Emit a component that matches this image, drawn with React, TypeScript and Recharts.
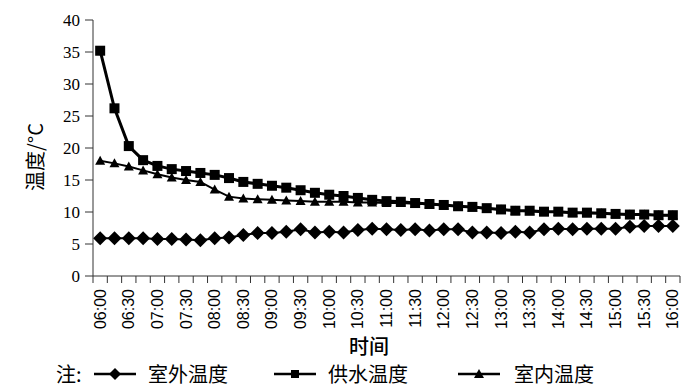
import { LineChart, Line, XAxis, YAxis, Label } from 'recharts'

const TIMES = [
  '06:00', '06:15', '06:30', '06:45', '07:00', '07:15', '07:30', '07:45',
  '08:00', '08:15', '08:30', '08:45', '09:00', '09:15', '09:30', '09:45',
  '10:00', '10:15', '10:30', '10:45', '11:00', '11:15', '11:30', '11:45',
  '12:00', '12:15', '12:30', '12:45', '13:00', '13:15', '13:30', '13:45',
  '14:00', '14:15', '14:30', '14:45', '15:00', '15:15', '15:30', '15:45',
  '16:00',
]

// 室外温度
const OUTDOOR = [
  5.9, 5.9, 5.9, 5.9, 5.8, 5.8, 5.7, 5.6, 5.9, 6.0, 6.4, 6.7, 6.7, 6.9, 7.3, 6.8,
  6.9, 6.8, 7.2, 7.4, 7.3, 7.2, 7.3, 7.1, 7.3, 7.3, 6.8, 6.8, 6.7, 6.9, 6.8, 7.3,
  7.4, 7.3, 7.4, 7.4, 7.4, 7.7, 7.8, 7.8, 7.8,
]

// 供水温度
const SUPPLY = [
  35.2, 26.2, 20.3, 18.1, 17.2, 16.7, 16.4, 16.1, 15.8, 15.3, 14.7, 14.4, 14.1, 13.8,
  13.4, 13.0, 12.7, 12.5, 12.2, 11.9, 11.7, 11.6, 11.4, 11.25, 11.1, 10.9, 10.8, 10.6,
  10.4, 10.2, 10.2, 10.05, 10.05, 9.9, 9.9, 9.8, 9.7, 9.6, 9.6, 9.5, 9.5,
]

// 室内温度
const INDOOR = [
  18.0, 17.6, 17.1, 16.5, 15.9, 15.4, 15.0, 14.7, 13.5, 12.4, 12.1, 12.0, 11.9, 11.8,
  11.7, 11.6, 11.6, 11.6, 11.5, 11.5, 11.4, 11.4, 11.3, 11.2, 11.0, 10.9, 10.7, 10.5,
  10.4, 10.2, 10.1, 10.0, 10.0, 9.9, 9.8, 9.8, 9.7, 9.6, 9.6, 9.5, 9.5,
]

const Y_TICKS = [0, 5, 10, 15, 20, 25, 30, 35, 40]

const data = TIMES.map((t, i) => ({ i, t, outdoor: OUTDOOR[i], supply: SUPPLY[i], indoor: INDOOR[i] }))

// tick marks sit between the categories, labels on every second category
const xTicks = TIMES.flatMap((_, i) => [i - 0.5, i]).concat(TIMES.length - 0.5)

const CJK = '"Noto Sans CJK SC", sans-serif'
const AXIS = '#333'

const TimeTick = ({ x, y, payload }: any) => {
  const v = payload.value
  if (!Number.isInteger(v)) return <line x1={x} x2={x} y1={y - 7} y2={y} stroke={AXIS} />
  if (v % 2) return <g />
  return (
    <text x={x} y={y + 6} transform={`rotate(-90 ${x} ${y + 6})`} textAnchor="end"
      dominantBaseline="central" fontFamily='"Liberation Sans", Arial' fontSize={16} fill="#000">
      {TIMES[v]}
    </text>
  )
}

const diamond = (p: any) => {
  const { cx, cy, index } = p
  if (cx == null || cy == null) return <g key={index} />
  return <path key={index} d={`M${cx},${cy - 7}L${cx + 7},${cy}L${cx},${cy + 7}L${cx - 7},${cy}Z`} fill="#000" />
}

const square = (p: any) => {
  const { cx, cy, index } = p
  if (cx == null || cy == null) return <g key={index} />
  return <rect key={index} x={cx - 5} y={cy - 5} width={10} height={10} fill="#000" />
}

const triangle = (p: any) => {
  const { cx, cy, index } = p
  if (cx == null || cy == null) return <g key={index} />
  return <path key={index} d={`M${cx},${cy - 5}L${cx + 5},${cy + 4}L${cx - 5},${cy + 4}Z`} fill="#000" />
}

const LegendIcon = ({ shape }: { shape: 'd' | 's' | 't' }) => (
  <svg width={42} height={14} style={{ display: 'block' }}>
    <line x1={0} x2={42} y1={7} y2={7} stroke="#000" strokeWidth={2.5} />
    {shape === 'd' && <path d="M21,1L27,7L21,13L15,7Z" fill="#000" />}
    {shape === 's' && <rect x={17} y={3} width={8} height={8} fill="#000" />}
    {shape === 't' && <path d="M21,2L26,11L16,11Z" fill="#000" />}
  </svg>
)

const legendText: React.CSSProperties = {
  position: 'absolute', top: 364, fontFamily: CJK, fontSize: 20, lineHeight: '20px', color: '#000',
  whiteSpace: 'nowrap',
}

export default function App() {
  return (
    <div style={{ position: 'absolute', left: 0, top: 0, width: 700, height: 389, background: '#fff', overflow: 'hidden' }}>
      <LineChart width={700} height={389} data={data} margin={{ top: 20, right: 20, bottom: 0, left: 0 }}>
        <YAxis type="number" domain={[0, 40]} ticks={Y_TICKS} width={93} interval={0}
          axisLine={{ stroke: AXIS }} tickLine={{ stroke: AXIS }} tickSize={8} tickMargin={5}
          tick={{ fontFamily: '"Liberation Serif", serif', fontSize: 17, fill: '#000' }}>
          <Label content={() => (
            <text x={34} y={157} transform="rotate(-90 34 157)" textAnchor="middle"
              dominantBaseline="central" fontFamily={CJK} fontSize={20} fill="#000">温度/°C</text>
          )} />
        </YAxis>
        <XAxis dataKey="i" type="number" domain={[-0.5, TIMES.length - 0.5]} ticks={xTicks} interval={0}
          height={113} axisLine={{ stroke: AXIS }} tickLine={false} tickSize={7} tickMargin={0}
          tick={<TimeTick />}>
          <Label content={() => (
            <text x={369} y={345} textAnchor="middle" dominantBaseline="central"
              fontFamily={CJK} fontSize={20} fontWeight={500} fill="#000">时间</text>
          )} />
        </XAxis>
        <Line type="linear" dataKey="outdoor" stroke="#000" strokeWidth={2} dot={diamond} activeDot={false} isAnimationActive={false} />
        <Line type="linear" dataKey="supply" stroke="#000" strokeWidth={3} dot={square} activeDot={false} isAnimationActive={false} />
        <Line type="linear" dataKey="indoor" stroke="#000" strokeWidth={2} dot={triangle} activeDot={false} isAnimationActive={false} />
      </LineChart>
      <span style={{ ...legendText, left: 56 }}>注:</span>
      <div style={{ position: 'absolute', top: 367, left: 94 }}><LegendIcon shape="d" /></div>
      <span style={{ ...legendText, left: 148 }}>室外温度</span>
      <div style={{ position: 'absolute', top: 367, left: 274 }}><LegendIcon shape="s" /></div>
      <span style={{ ...legendText, left: 328 }}>供水温度</span>
      <div style={{ position: 'absolute', top: 367, left: 458 }}><LegendIcon shape="t" /></div>
      <span style={{ ...legendText, left: 514 }}>室内温度</span>
    </div>
  )
}
